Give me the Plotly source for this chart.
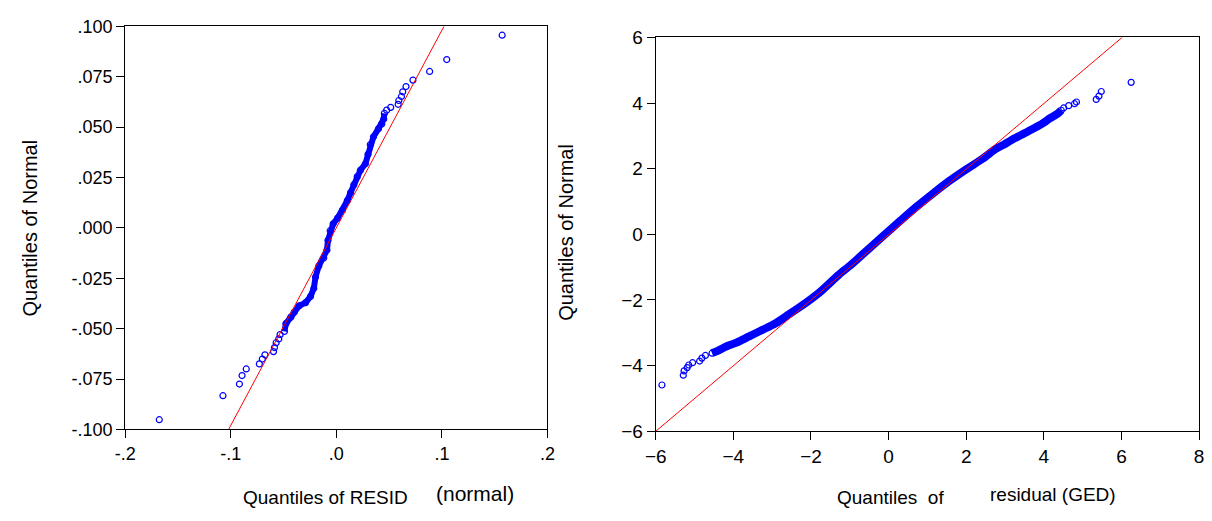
import plotly.graph_objects as go

# ---------------- data ----------------
# Left panel: Quantiles of RESID (normal) vs Quantiles of Normal
resid_q = [-0.1677, -0.1074, -0.0918, -0.0893, -0.0853, -0.0729, -0.0701, -0.0676,
           -0.0595, -0.0586, -0.0570, -0.0545, -0.0533, -0.0492, -0.0477, -0.0431,
           -0.0399, -0.0353, -0.0291, -0.0244, -0.0213, -0.0197, -0.0166, -0.0119,
           -0.0089, -0.0079, -0.0058, -0.0030, 0.0011, 0.0058, 0.0104, 0.0135,
           0.0166, 0.0198, 0.0228, 0.0275, 0.0300, 0.0322, 0.0352, 0.0399,
           0.0431, 0.0449, 0.0455, 0.0477, 0.0515, 0.0586, 0.0592, 0.0617,
           0.0629, 0.0660, 0.0726, 0.0884, 0.1046, 0.1571]
normal_q_left = [-0.0952, -0.0833, -0.0775, -0.0733, -0.0700, -0.0675, -0.0651, -0.0630,
                 -0.0614, -0.0594, -0.0570, -0.0551, -0.0530, -0.0514, -0.0475, -0.0443,
                 -0.0419, -0.0387, -0.0371, -0.0340, -0.0300, -0.0244, -0.0189, -0.0149,
                 -0.0110, -0.0062, -0.0014, 0.0020, 0.0048, 0.0087, 0.0135, 0.0175,
                 0.0214, 0.0254, 0.0286, 0.0318, 0.0365, 0.0413, 0.0452, 0.0492,
                 0.0516, 0.0540, 0.0568, 0.0584, 0.0598, 0.0613, 0.0632, 0.0652,
                 0.0675, 0.0701, 0.0733, 0.0776, 0.0835, 0.0956]
dense_left = (13, 42)          # index range where the circles merge into a band
ref_left_x = [-0.102, 0.102]
ref_left_y = [-0.100, 0.100]

# Right panel: Quantiles of residual (GED) vs Quantiles of Normal
ged_q = [-5.84, -5.29, -5.27, -5.19, -5.15, -5.05, -4.87, -4.81, -4.72, -4.55,
         -4.39, -4.17, -3.92, -3.58, -3.25, -2.91, -2.57, -2.23, -1.77, -1.30,
         -0.96, -0.50, -0.12, 0.30, 0.73, 1.15, 1.57, 2.00, 2.42, 2.76,
         3.01, 3.18, 3.60, 3.98, 4.15, 4.36, 4.45, 4.51, 4.64, 4.79,
         4.84, 5.35, 5.42, 5.48, 6.25]
normal_q_right = [-4.59, -4.29, -4.16, -4.06, -3.98, -3.91, -3.86, -3.77, -3.69, -3.62,
                  -3.54, -3.41, -3.30, -3.10, -2.91, -2.71, -2.44, -2.17, -1.76, -1.25,
                  -0.92, -0.43, -0.03, 0.41, 0.85, 1.25, 1.63, 1.98, 2.30, 2.60,
                  2.76, 2.88, 3.14, 3.39, 3.53, 3.68, 3.78, 3.85, 3.92, 3.98,
                  4.03, 4.11, 4.21, 4.35, 4.63]
dense_right = (9, 36)
ref_right_x = [-6.0, 6.02]
ref_right_y = [-6.0, 6.0]

left_yticks = [-0.1, -0.075, -0.05, -0.025, 0.0, 0.025, 0.05, 0.075, 0.1]
left_yticktext = ['-.100', '-.075', '-.050', '-.025', '.000', '.025', '.050', '.075', '.100']
left_xticks = [-0.2, -0.1, 0.0, 0.1, 0.2]
left_xticktext = ['-.2', '-.1', '.0', '.1', '.2']
right_ticks_x = [-6, -4, -2, 0, 2, 4, 6, 8]
right_ticks_y = [-6, -4, -2, 0, 2, 4, 6]

# ---------------- figure ----------------
FONT = "Liberation Sans, Arial, sans-serif"
BLUE = "#0000FF"
RED = "#FF0000"
W, H = 1212, 521

def fx(px):                 # reference pixel -> paper x
    return min(1.0, max(0.0, px / W))

def fy(py):                 # reference pixel -> paper y
    return min(1.0, max(0.0, 1 - py / H))

fig = go.Figure()

marker = dict(symbol="circle-open", size=6, color=BLUE, line=dict(width=1.2, color=BLUE))

# left panel
a, b = dense_left
fig.add_trace(go.Scatter(x=resid_q[a:b + 1], y=normal_q_left[a:b + 1], mode="lines",
                         line=dict(color=BLUE, width=6), xaxis="x", yaxis="y",
                         hoverinfo="skip"))
fig.add_trace(go.Scatter(x=resid_q, y=normal_q_left, mode="markers", marker=marker,
                         xaxis="x", yaxis="y"))
fig.add_trace(go.Scatter(x=ref_left_x, y=ref_left_y, mode="lines",
                         line=dict(color=RED, width=1), xaxis="x", yaxis="y"))

# right panel
a, b = dense_right
fig.add_trace(go.Scatter(x=ged_q[a:b + 1], y=normal_q_right[a:b + 1], mode="lines",
                         line=dict(color=BLUE, width=8, shape="spline", smoothing=0.8),
                         xaxis="x2", yaxis="y2", hoverinfo="skip"))
fig.add_trace(go.Scatter(x=ged_q, y=normal_q_right, mode="markers", marker=marker,
                         xaxis="x2", yaxis="y2"))
fig.add_trace(go.Scatter(x=ref_right_x, y=ref_right_y, mode="lines",
                         line=dict(color=RED, width=1), xaxis="x2", yaxis="y2"))

axis_common = dict(showline=True, mirror=True, linecolor="black", linewidth=1,
                   ticks="outside", ticklen=8, tickcolor="black", tickwidth=1,
                   showgrid=False, zeroline=False, fixedrange=True)

fig.update_layout(
    width=W, height=H,
    margin=dict(l=0, r=0, t=0, b=0),
    paper_bgcolor="white", plot_bgcolor="white",
    showlegend=False,
    font=dict(family=FONT, color="black"),
    xaxis=dict(domain=[fx(116), fx(545)], range=[-0.2, 0.2], tickvals=left_xticks,
               ticktext=left_xticktext, tickfont=dict(size=18), anchor="y", **axis_common),
    yaxis=dict(domain=[fy(437), fy(17)], range=[-0.1, 0.1], tickvals=left_yticks,
               ticktext=left_yticktext, tickfont=dict(size=18), anchor="x", **axis_common),
    xaxis2=dict(domain=[fx(655), fx(1207)], range=[-6, 8], tickvals=right_ticks_x,
                tickfont=dict(size=19), anchor="y2", **axis_common),
    yaxis2=dict(domain=[fy(439), fy(28.5)], range=[-6, 6], tickvals=right_ticks_y,
                tickfont=dict(size=19), anchor="x2", **axis_common),
)

def px_annot(text, x, y, size, angle=0):
    fig.add_annotation(text=text, x=fx(x), y=fy(y), xref="paper", yref="paper",
                       showarrow=False, textangle=angle, xanchor="center", yanchor="middle",
                       font=dict(size=size, family=FONT, color="black"))

px_annot("Quantiles of Normal", 19, 227, 20, -90)
px_annot("Quantiles of RESID", 320, 508, 19)
px_annot("(normal)", 471, 504, 21)
px_annot("Quantiles of Normal", 563, 232, 20, -90)
px_annot("Quantiles  of", 893, 508, 19)
px_annot("residual (GED)", 1059, 505, 19)

fig.write_html("out.html", config={"displayModeBar": False},
               post_script="document.body.style.margin='0';document.body.style.overflow='hidden';")
